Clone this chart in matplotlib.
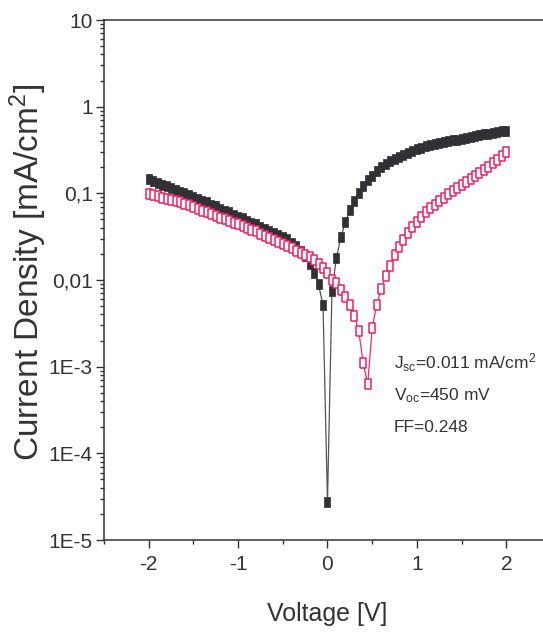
import matplotlib.pyplot as plt
import matplotlib.ticker as mticker
import numpy as np

plt.rcParams['font.family'] = ['Liberation Sans', 'DejaVu Sans']
plt.rcParams['mathtext.default'] = 'regular'
plt.rcParams['axes.unicode_minus'] = False

voltage = [-2.00, -1.95, -1.90, -1.85, -1.80, -1.75, -1.70, -1.65, -1.60, -1.55,
           -1.50, -1.45, -1.40, -1.35, -1.30, -1.25, -1.20, -1.15, -1.10, -1.05,
           -1.00, -0.95, -0.90, -0.85, -0.80, -0.75, -0.70, -0.65, -0.60, -0.55,
           -0.50, -0.45, -0.40, -0.35, -0.30, -0.25, -0.20, -0.15, -0.10, -0.05,
           0.00, 0.05, 0.10, 0.15, 0.20, 0.25, 0.30, 0.35, 0.40, 0.45,
           0.50, 0.55, 0.60, 0.65, 0.70, 0.75, 0.80, 0.85, 0.90, 0.95,
           1.00, 1.05, 1.10, 1.15, 1.20, 1.25, 1.30, 1.35, 1.40, 1.45,
           1.50, 1.55, 1.60, 1.65, 1.70, 1.75, 1.80, 1.85, 1.90, 1.95, 2.00]

# dark curve (filled squares), |J| in mA/cm2
j_dark = [0.145, 0.138, 0.132, 0.126, 0.120, 0.115, 0.110, 0.105, 0.100, 0.0955,
          0.0912, 0.0871, 0.0822, 0.0785, 0.0741, 0.0708, 0.0668, 0.0631, 0.0603, 0.0569,
          0.0537, 0.0513, 0.0484, 0.0457, 0.0437, 0.0412, 0.0389, 0.0370, 0.0351, 0.0332,
          0.0315, 0.0295, 0.0269, 0.0245, 0.0219, 0.0191, 0.0155, 0.0120, 0.0089, 0.0051,
          2.77e-5, 0.0075, 0.0181, 0.0311, 0.0463, 0.0637, 0.0817, 0.102, 0.122, 0.142,
          0.160, 0.183, 0.200, 0.218, 0.235, 0.250, 0.265, 0.280, 0.295, 0.310,
          0.325, 0.337, 0.348, 0.358, 0.368, 0.378, 0.388, 0.398, 0.408, 0.418,
          0.428, 0.438, 0.448, 0.458, 0.468, 0.478, 0.488, 0.498, 0.508, 0.518, 0.528]

# illuminated curve (open squares)
j_light = [0.0977, 0.0951, 0.0923, 0.0895, 0.0869, 0.0841, 0.0813, 0.0785, 0.0759, 0.0724,
           0.0692, 0.0661, 0.0631, 0.0603, 0.0575, 0.0550, 0.0525, 0.0501, 0.0479, 0.0457,
           0.0437, 0.0417, 0.0398, 0.0380, 0.0363, 0.0343, 0.0324, 0.0309, 0.0292, 0.0275,
           0.0260, 0.0245, 0.0232, 0.0219, 0.0207, 0.0195, 0.0182, 0.0170, 0.0155, 0.0136,
           0.0119, 0.0100, 0.00916, 0.00767, 0.00641, 0.00515, 0.00387, 0.00258, 0.00109, 0.00063,
           0.00277, 0.00515, 0.00787, 0.0112, 0.0145, 0.0195, 0.0243, 0.0290, 0.0346, 0.0412,
           0.0468, 0.0537, 0.0610, 0.0676, 0.0741, 0.0813, 0.0891, 0.0977, 0.106, 0.115,
           0.124, 0.135, 0.146, 0.158, 0.172, 0.186, 0.202, 0.221, 0.243, 0.269, 0.302]

ytick_vals = [1e-5, 1e-4, 1e-3, 1e-2, 1e-1, 1, 10]
ytick_text = ['1E-5', '1E-4', '1E-3', '0,01', '0,1', '1', '10']

fig = plt.figure(figsize=(5.43, 6.33), dpi=100)
ax = fig.add_axes([0.1915, 0.1469, 0.8232, 0.8215])

rect = [(-0.75, -1), (0.75, -1), (0.75, 1), (-0.75, 1), (-0.75, -1)]

ax.plot(voltage, j_dark, color='#555558', lw=0.9, marker=rect, ms=6.5,
        mfc='#303035', mec='#303035', mew=0.5, zorder=2)
ax.plot(voltage, j_light, color='#ee2a6e', lw=0.9, marker=rect, ms=6.5,
        mfc='white', mec='#ee1f63', mew=1.1, zorder=3)

ax.set_yscale('log')
ax.set_ylim(1e-5, 10)
ax.set_xlim(-2.5, 2.5)
ax.set_yticks(ytick_vals)
ax.set_yticklabels(ytick_text)
ax.yaxis.set_minor_locator(mticker.LogLocator(base=10, subs=np.arange(2, 10)))
ax.yaxis.set_minor_formatter(mticker.NullFormatter())
ax.set_xticks([-2, -1, 0, 1, 2])
ax.set_xticklabels(['-2', '-1', '0', '1', '2'])
ax.set_xticks([-2.5, -1.5, -0.5, 0.5, 1.5, 2.5], minor=True)

ax.tick_params(axis='both', which='major', direction='out', length=6, width=1,
               color='#333333', labelsize=15, labelcolor='#333333')
ax.tick_params(axis='y', which='major', pad=2)
ax.tick_params(axis='x', which='major', pad=5)
ax.tick_params(axis='both', which='minor', direction='out', length=3, width=1,
               color='#333333')
for s in ['left', 'bottom', 'top']:
    ax.spines[s].set_color('#333333')
    ax.spines[s].set_linewidth(1.1)
ax.spines['right'].set_visible(False)

ax.set_xlabel('Voltage [V]', fontsize=18, color='#333333')
ax.xaxis.set_label_coords(0.5, -0.12)
ax.set_ylabel('Current Density [mA/cm$^2$]', fontsize=24, color='#333333')
ax.yaxis.set_label_coords(-0.122, 0.515)

ax.text(0.648, 0.329, 'J$_{sc}$=0.011 mA/cm$^2$', transform=ax.transAxes,
        fontsize=12.5, color='#333333', va='baseline')
ax.text(0.648, 0.269, 'V$_{oc}$=450 mV', transform=ax.transAxes,
        fontsize=12.5, color='#333333', va='baseline')
ax.text(0.648, 0.208, 'FF=0.248', transform=ax.transAxes,
        fontsize=12.5, color='#333333', va='baseline')

fig.savefig('out.png', dpi=100)
